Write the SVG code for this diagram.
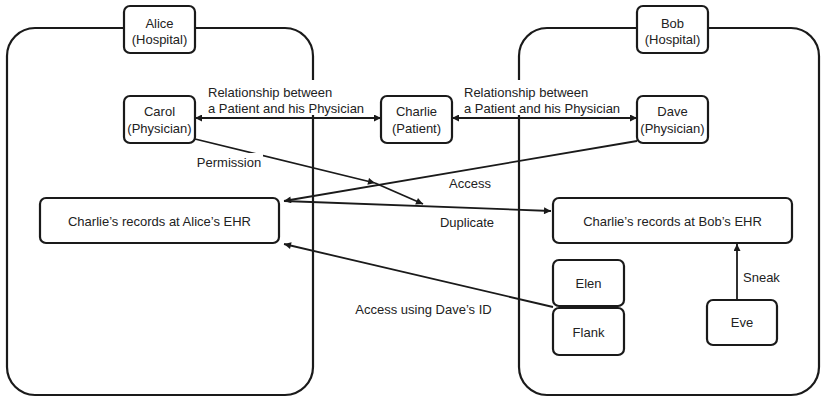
<svg xmlns="http://www.w3.org/2000/svg" width="821" height="397" viewBox="0 0 821 397">
<style>
  .frame { fill: none; stroke: #1a1a1a; stroke-width: 2.2; }
  .box { fill: #ffffff; stroke: #1a1a1a; stroke-width: 2.2; }
  .edge { fill: none; stroke: #1a1a1a; stroke-width: 1.8; }
  text { font-family: "Liberation Sans", Arial, sans-serif; font-size: 13px; fill: #222222; }
  .c { text-anchor: middle; }
  .bg { fill: #ffffff; stroke: none; }
</style>
<defs>
  <marker id="arrow" viewBox="0 0 10 10" refX="10" refY="5" markerWidth="9" markerHeight="7" markerUnits="userSpaceOnUse" orient="auto-start-reverse">
    <path d="M0,0 L10,5 L0,10 z" fill="#1a1a1a"/>
  </marker>
</defs>

<g id="alice-hospital">
  <rect class="frame" x="7" y="28" width="306" height="367" rx="28" ry="28"/>
</g>
<g id="bob-hospital">
  <rect class="frame" x="519" y="28" width="300" height="367" rx="28" ry="28"/>
</g>

<g id="connectors">
  <line class="edge" x1="195" y1="118" x2="381" y2="118" marker-start="url(#arrow)" marker-end="url(#arrow)"/>
  <line class="edge" x1="452" y1="118" x2="637" y2="118" marker-start="url(#arrow)" marker-end="url(#arrow)"/>
  <line class="edge" x1="637" y1="141" x2="284" y2="201" marker-end="url(#arrow)"/>
  <line class="edge" x1="284" y1="201" x2="551" y2="211" marker-end="url(#arrow)"/>
  <line class="edge" x1="195" y1="139" x2="375" y2="183" marker-end="url(#arrow)"/>
  <line class="edge" x1="375" y1="183" x2="423" y2="204" marker-end="url(#arrow)"/>
  <line class="edge" x1="553" y1="307" x2="284" y2="244" marker-end="url(#arrow)"/>
  <line class="edge" x1="737" y1="300" x2="737" y2="244" marker-end="url(#arrow)"/>
</g>

<g id="labels">
  <rect class="bg" x="205" y="80" width="162" height="35"/>
  <text x="208" y="96.5">Relationship between</text>
  <text x="208" y="112.5">a Patient and his Physician</text>
  <rect class="bg" x="461" y="80" width="162" height="35"/>
  <text x="464" y="96.5">Relationship between</text>
  <text x="464" y="112.5">a Patient and his Physician</text>
  <rect class="bg" x="196" y="153" width="67" height="17"/>
  <text class="c" x="229" y="166.5">Permission</text>
  <text class="c" x="470" y="187.5">Access</text>
  <text class="c" x="467" y="226.5">Duplicate</text>
  <text class="c" x="423.5" y="313.5">Access using Dave’s ID</text>
  <text x="743" y="281.5">Sneak</text>
</g>

<g id="alice-label">
  <rect class="box" x="124" y="6" width="71" height="47" rx="6"/>
  <text class="c" x="159.5" y="27.5">Alice</text>
  <text class="c" x="159.5" y="43.5">(Hospital)</text>
</g>
<g id="bob-label">
  <rect class="box" x="637" y="6" width="71" height="47" rx="6"/>
  <text class="c" x="672.5" y="27.5">Bob</text>
  <text class="c" x="672.5" y="43.5">(Hospital)</text>
</g>
<g id="carol">
  <rect class="box" x="124" y="96" width="71" height="47" rx="6"/>
  <text class="c" x="159.5" y="115.5">Carol</text>
  <text class="c" x="159.5" y="132.5">(Physician)</text>
</g>
<g id="charlie">
  <rect class="box" x="381" y="96" width="71" height="47" rx="6"/>
  <text class="c" x="416.5" y="115.5">Charlie</text>
  <text class="c" x="416.5" y="132.5">(Patient)</text>
</g>
<g id="dave">
  <rect class="box" x="637" y="96" width="71" height="47" rx="6"/>
  <text class="c" x="672.5" y="115.5">Dave</text>
  <text class="c" x="672.5" y="132.5">(Physician)</text>
</g>
<g id="alice-ehr">
  <rect class="box" x="40" y="198" width="239" height="45" rx="6"/>
  <text class="c" x="159.5" y="225.5">Charlie’s records at Alice’s EHR</text>
</g>
<g id="bob-ehr">
  <rect class="box" x="553" y="198" width="239" height="45" rx="6"/>
  <text class="c" x="672.5" y="225.5">Charlie’s records at Bob’s EHR</text>
</g>
<g id="elen">
  <rect class="box" x="553" y="260" width="71" height="46" rx="6"/>
  <text class="c" x="588.5" y="288">Elen</text>
</g>
<g id="flank">
  <rect class="box" x="553" y="308" width="71" height="47" rx="6"/>
  <text class="c" x="588.5" y="336.5">Flank</text>
</g>
<g id="eve">
  <rect class="box" x="707" y="300" width="70" height="45" rx="6"/>
  <text class="c" x="742" y="327">Eve</text>
</g>
</svg>
